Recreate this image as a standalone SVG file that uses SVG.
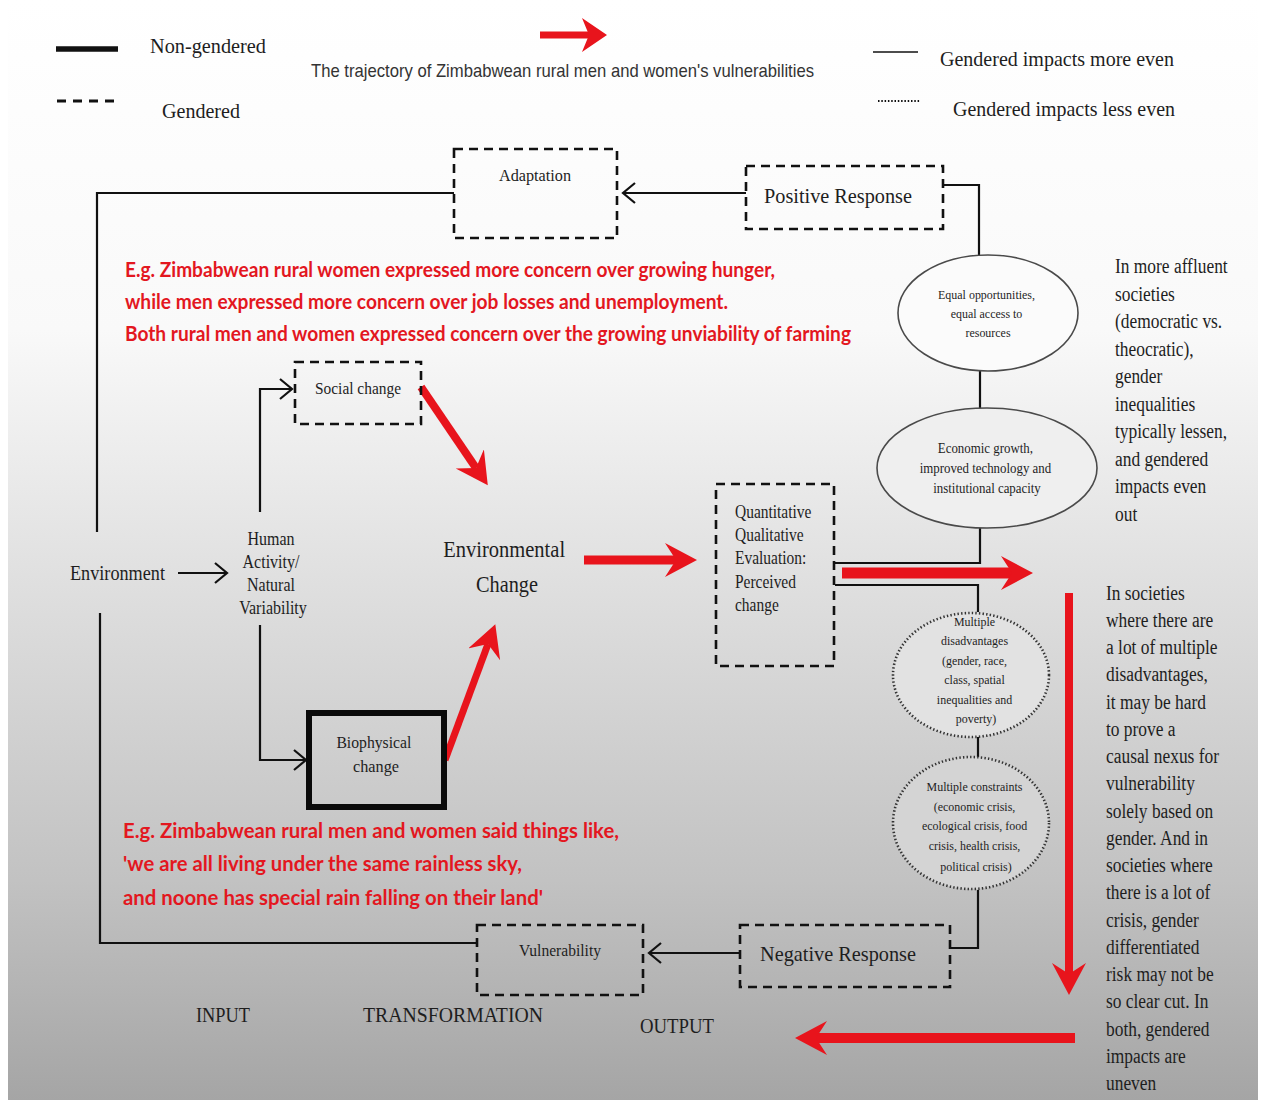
<svg xmlns="http://www.w3.org/2000/svg" width="1264" height="1100" viewBox="0 0 1264 1100">
  <defs>
    <linearGradient id="bg" gradientUnits="userSpaceOnUse" x1="0" y1="0" x2="0" y2="1100">
      <stop offset="0" stop-color="#ffffff"/>
      <stop offset="0.3" stop-color="#f9f9f9"/>
      <stop offset="0.55" stop-color="#dddddd"/>
      <stop offset="0.8" stop-color="#c2c2c2"/>
      <stop offset="1" stop-color="#a5a5a5"/>
    </linearGradient>
    <marker id="chev" markerUnits="userSpaceOnUse" markerWidth="20" markerHeight="26" refX="13" refY="11" orient="auto">
      <path d="M1,1 L13,11 L1,21" fill="none" stroke="#111" stroke-width="2.2"/>
    </marker>
    <marker id="redHead" markerUnits="userSpaceOnUse" markerWidth="40" markerHeight="40" refX="11" refY="17" orient="auto">
      <path d="M0,0 L32,17 L0,34 L11,17 Z" fill="#e8141c"/>
    </marker>
    <marker id="redHeadSm" markerUnits="userSpaceOnUse" markerWidth="30" markerHeight="40" refX="7" refY="17" orient="auto">
      <path d="M0,0 L25,17 L0,34 L7,17 Z" fill="#e8141c"/>
    </marker>
  </defs>
  <style>
    .serif { font-family: "Liberation Serif", "Times New Roman", serif; fill: #1e1e1e; }
    .red { font-family: Lato, "Open Sans", sans-serif; font-weight: 700; fill: #e3171f; font-size: 21px; }
    .dash { fill: none; stroke: #111; stroke-width: 2.6; stroke-dasharray: 9 6; }
    .conn { fill: none; stroke: #111; stroke-width: 2.2; }
    .redline { stroke: #e8141c; fill: none; }
    .oval { stroke: #4a4a4a; stroke-width: 1.6; }
    .dots { stroke: #333; stroke-width: 2.6; stroke-dasharray: 1.4 2.2; }
    .mid { text-anchor: middle; }
  </style>

  <!-- page background -->
  <rect width="1264" height="1100" fill="#ffffff"/>
  <rect x="8" y="0" width="1250" height="1100" fill="url(#bg)"/>

  <!-- legend -->
  <g id="legend">
    <line x1="56" y1="49" x2="118" y2="49" stroke="#111" stroke-width="5.5"/>
    <text class="serif" x="150" y="53" font-size="22" textLength="116" lengthAdjust="spacingAndGlyphs">Non-gendered</text>
    <line x1="57" y1="101" x2="117" y2="101" stroke="#111" stroke-width="3" stroke-dasharray="9 7"/>
    <text class="serif" x="162" y="118" font-size="22" textLength="78" lengthAdjust="spacingAndGlyphs">Gendered</text>
    <line x1="540" y1="35" x2="589" y2="35" class="redline" stroke-width="7" marker-end="url(#redHeadSm)"/>
    <text x="311" y="77" font-family="'Liberation Sans', Arial, sans-serif" font-size="19" fill="#333" textLength="503" lengthAdjust="spacingAndGlyphs">The trajectory of Zimbabwean rural men and women's vulnerabilities</text>
    <line x1="873" y1="52" x2="918" y2="52" stroke="#111" stroke-width="1.5"/>
    <text class="serif" x="940" y="66" font-size="22" textLength="234" lengthAdjust="spacingAndGlyphs">Gendered impacts more even</text>
    <line x1="878" y1="101" x2="920" y2="101" stroke="#111" stroke-width="2" stroke-dasharray="1.5 1.8"/>
    <text class="serif" x="953" y="116" font-size="22" textLength="222" lengthAdjust="spacingAndGlyphs">Gendered impacts less even</text>
  </g>

  <!-- connectors -->
  <g id="connectors">
    <polyline class="conn" points="454,193 97,193 97,532"/>
    <line class="conn" x1="746" y1="193" x2="623" y2="193" marker-end="url(#chev)"/>
    <polyline class="conn" points="943,185 979,185 979,255"/>
    <line class="conn" x1="980" y1="371" x2="980" y2="409"/>
    <polyline class="conn" points="980,528 980,563 835,563"/>
    <polyline class="conn" points="835,585 978,585 978,612"/>
    <line class="conn" x1="978" y1="737" x2="978" y2="757"/>
    <polyline class="conn" points="978,890 978,948 951,948"/>
    <line class="conn" x1="740" y1="953" x2="649" y2="953" marker-end="url(#chev)"/>
    <polyline class="conn" points="100,613 100,943 477,943"/>
    <line class="conn" x1="178" y1="573" x2="227" y2="573" marker-end="url(#chev)"/>
    <polyline class="conn" points="260,512 260,389 292,389" marker-end="url(#chev)"/>
    <polyline class="conn" points="260,625 260,760 306,760" marker-end="url(#chev)"/>

    <!-- red trajectory arrows -->
    <line class="redline" x1="421" y1="387" x2="476" y2="468" stroke-width="8" marker-end="url(#redHead)"/>
    <line class="redline" x1="445" y1="760" x2="488" y2="644" stroke-width="7" marker-end="url(#redHead)"/>
    <line class="redline" x1="584" y1="560" x2="676" y2="560" stroke-width="9" marker-end="url(#redHead)"/>
    <line class="redline" x1="842" y1="573" x2="1012" y2="573" stroke-width="11" marker-end="url(#redHead)"/>
    <line class="redline" x1="1069" y1="593" x2="1069" y2="974" stroke-width="8" marker-end="url(#redHead)"/>
    <line class="redline" x1="1075" y1="1038" x2="816" y2="1038" stroke-width="10" marker-end="url(#redHead)"/>
  </g>

  <!-- nodes -->
  <g id="adaptation">
    <rect class="dash" x="454" y="149" width="163" height="89"/>
    <text class="serif mid" x="535" y="181" font-size="16" textLength="72" lengthAdjust="spacingAndGlyphs">Adaptation</text>
  </g>

  <g id="positive-response">
    <rect class="dash" x="746" y="166" width="197" height="63"/>
    <text class="serif mid" x="838" y="203" font-size="22" textLength="148" lengthAdjust="spacingAndGlyphs">Positive Response</text>
  </g>

  <g id="equal-opportunities">
    <ellipse class="oval" cx="988" cy="313" rx="90" ry="58" fill="#fbfbfb"/>
    <g transform="translate(988,0) scale(0.92,1)">
      <text class="serif mid" font-size="13">
        <tspan x="0" y="299">Equal opportunities,</tspan>
        <tspan x="0" y="318">equal access to</tspan>
        <tspan x="0" y="337">resources</tspan>
      </text>
    </g>
  </g>

  <g id="economic-growth">
    <ellipse class="oval" cx="987" cy="468" rx="110" ry="60" fill="#efefef"/>
    <g transform="translate(987,0) scale(0.92,1)">
      <text class="serif mid" font-size="14">
        <tspan x="0" y="453">Economic growth,</tspan>
        <tspan x="0" y="473">improved technology and</tspan>
        <tspan x="0" y="493">institutional capacity</tspan>
      </text>
    </g>
  </g>

  <g id="evaluation">
    <rect class="dash" x="716" y="484" width="118" height="182"/>
    <g transform="translate(735,0) scale(0.86,1)">
      <text class="serif" font-size="18">
        <tspan x="0" y="518">Quantitative</tspan>
        <tspan x="0" y="541">Qualitative</tspan>
        <tspan x="0" y="564">Evaluation:</tspan>
        <tspan x="0" y="588">Perceived</tspan>
        <tspan x="0" y="611">change</tspan>
      </text>
    </g>
  </g>

  <g id="multiple-disadvantages">
    <ellipse class="dots" cx="971" cy="675" rx="78" ry="62" fill="#e2e2e2"/>
    <g transform="translate(976,0) scale(0.92,1)">
      <text class="serif mid" font-size="13">
        <tspan x="0" y="626">Multiple</tspan>
        <tspan x="0" y="645">disadvantages</tspan>
        <tspan x="0" y="665">(gender, race,</tspan>
        <tspan x="0" y="684">class, spatial</tspan>
        <tspan x="0" y="704">inequalities and</tspan>
        <tspan x="0" y="723">poverty)</tspan>
      </text>
    </g>
  </g>

  <g id="multiple-constraints">
    <ellipse class="dots" cx="971" cy="823" rx="78" ry="66" fill="#d4d4d4"/>
    <g transform="translate(976,0) scale(0.92,1)">
      <text class="serif mid" font-size="13">
        <tspan x="0" y="791">Multiple constraints</tspan>
        <tspan x="0" y="811">(economic crisis,</tspan>
        <tspan x="0" y="830">ecological crisis, food</tspan>
        <tspan x="0" y="850">crisis, health crisis,</tspan>
        <tspan x="0" y="871">political crisis)</tspan>
      </text>
    </g>
  </g>

  <g id="negative-response">
    <rect class="dash" x="740" y="925" width="210" height="62"/>
    <text class="serif mid" x="838" y="961" font-size="22" textLength="156" lengthAdjust="spacingAndGlyphs">Negative Response</text>
  </g>

  <g id="vulnerability">
    <rect class="dash" x="477" y="925" width="166" height="70"/>
    <text class="serif mid" x="560" y="956" font-size="16" textLength="82" lengthAdjust="spacingAndGlyphs">Vulnerability</text>
  </g>

  <g id="environment">
    <text class="serif" x="70" y="580" font-size="20" textLength="95" lengthAdjust="spacingAndGlyphs">Environment</text>
  </g>

  <g id="human-activity">
    <g transform="translate(273,0) scale(0.89,1)">
      <text class="serif mid" font-size="18">
        <tspan x="0" y="545">Human</tspan>
        <tspan x="0" y="568">Activity/</tspan>
        <tspan x="0" y="591">Natural</tspan>
        <tspan x="0" y="614">Variability</tspan>
      </text>
    </g>
  </g>

  <g id="social-change">
    <rect class="dash" x="295" y="362" width="126" height="62"/>
    <text class="serif mid" x="358" y="394" font-size="16" textLength="86" lengthAdjust="spacingAndGlyphs">Social change</text>
  </g>

  <g id="biophysical-change">
    <rect x="309" y="713" width="135" height="94" fill="none" stroke="#0a0a0a" stroke-width="6"/>
    <text class="serif mid" font-size="17">
      <tspan x="376" y="748" textLength="75" lengthAdjust="spacingAndGlyphs">Biophysical</tspan>
      <tspan x="376" y="772" textLength="46" lengthAdjust="spacingAndGlyphs">change</tspan>
    </text>
  </g>

  <g id="environmental-change">
    <text class="serif mid" font-size="23">
      <tspan x="507" y="557" textLength="122" lengthAdjust="spacingAndGlyphs">Environmental</tspan>
      <tspan x="507" y="592" textLength="62" lengthAdjust="spacingAndGlyphs">Change</tspan>
    </text>
  </g>

  <!-- red commentary -->
  <g id="concern-note">
    <text class="red" x="125" y="277" textLength="650" lengthAdjust="spacingAndGlyphs">E.g. Zimbabwean rural women expressed more concern over growing hunger,</text>
    <text class="red" x="125" y="309" textLength="603" lengthAdjust="spacingAndGlyphs">while men expressed more concern over job losses and unemployment.</text>
    <text class="red" x="125" y="341" textLength="726" lengthAdjust="spacingAndGlyphs">Both rural men and women expressed concern over the growing unviability of farming</text>
  </g>

  <g id="rainless-note">
    <text class="red" x="123" y="838" textLength="496" lengthAdjust="spacingAndGlyphs">E.g. Zimbabwean rural men and women said things like,</text>
    <text class="red" x="123" y="871" textLength="399" lengthAdjust="spacingAndGlyphs">'we are all living under the same rainless sky,</text>
    <text class="red" x="123" y="905" textLength="420" lengthAdjust="spacingAndGlyphs">and noone has special rain falling on their land'</text>
  </g>

  <!-- side commentary -->
  <g id="affluent-note" transform="translate(1115,0) scale(0.87,1)">
    <text class="serif" font-size="20">
      <tspan x="0" y="273">In more affluent</tspan>
      <tspan x="0" y="301">societies</tspan>
      <tspan x="0" y="328">(democratic vs.</tspan>
      <tspan x="0" y="356">theocratic),</tspan>
      <tspan x="0" y="383">gender</tspan>
      <tspan x="0" y="411">inequalities</tspan>
      <tspan x="0" y="438">typically lessen,</tspan>
      <tspan x="0" y="466">and gendered</tspan>
      <tspan x="0" y="493">impacts even</tspan>
      <tspan x="0" y="521">out</tspan>
    </text>
  </g>

  <g id="disadvantage-note" transform="translate(1106,0) scale(0.87,1)">
    <text class="serif" font-size="20">
      <tspan x="0" y="600">In societies</tspan>
      <tspan x="0" y="627">where there are</tspan>
      <tspan x="0" y="654">a lot of multiple</tspan>
      <tspan x="0" y="681">disadvantages,</tspan>
      <tspan x="0" y="709">it may be hard</tspan>
      <tspan x="0" y="736">to prove a</tspan>
      <tspan x="0" y="763">causal nexus for</tspan>
      <tspan x="0" y="790">vulnerability</tspan>
      <tspan x="0" y="818">solely based on</tspan>
      <tspan x="0" y="845">gender. And in</tspan>
      <tspan x="0" y="872">societies where</tspan>
      <tspan x="0" y="899">there is a lot of</tspan>
      <tspan x="0" y="927">crisis, gender</tspan>
      <tspan x="0" y="954">differentiated</tspan>
      <tspan x="0" y="981">risk may not be</tspan>
      <tspan x="0" y="1008">so clear cut. In</tspan>
      <tspan x="0" y="1036">both, gendered</tspan>
      <tspan x="0" y="1063">impacts are</tspan>
      <tspan x="0" y="1090">uneven</tspan>
    </text>
  </g>

  <!-- stage labels -->
  <g id="stages">
    <text class="serif" x="196" y="1022" font-size="20" textLength="54" lengthAdjust="spacingAndGlyphs">INPUT</text>
    <text class="serif" x="363" y="1022" font-size="20" textLength="180" lengthAdjust="spacingAndGlyphs">TRANSFORMATION</text>
    <text class="serif" x="640" y="1033" font-size="20" textLength="74" lengthAdjust="spacingAndGlyphs">OUTPUT</text>
  </g>
</svg>
